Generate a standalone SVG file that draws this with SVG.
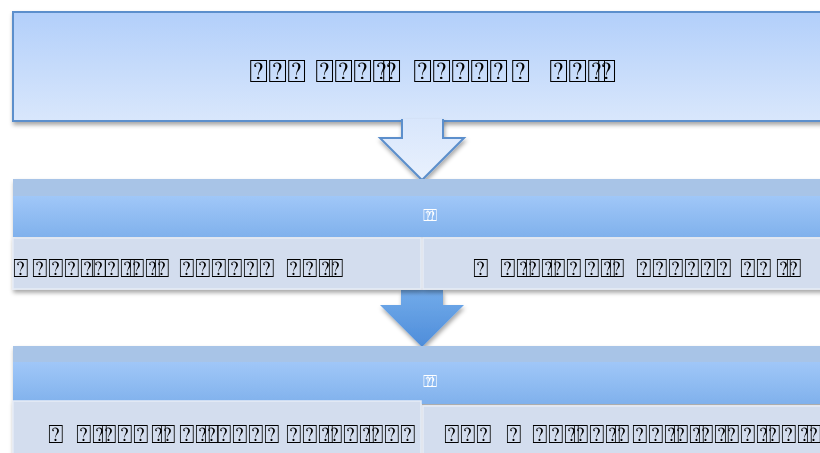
<svg xmlns="http://www.w3.org/2000/svg" width="820" height="453" viewBox="0 0 820 453">
<defs>
<linearGradient id="gTop" x1="0" y1="0" x2="0" y2="1"><stop offset="0" stop-color="#b2cffa"/><stop offset="1" stop-color="#d9e7fc"/></linearGradient>
<linearGradient id="gArrow1" x1="0" y1="0" x2="0" y2="1"><stop offset="0" stop-color="#d8e6fc"/><stop offset="1" stop-color="#e9f1fd"/></linearGradient>
<linearGradient id="gArrow2" x1="0" y1="0" x2="0" y2="1"><stop offset="0" stop-color="#72abea"/><stop offset="1" stop-color="#4e8dda"/></linearGradient>
<linearGradient id="gHead" x1="0" y1="0" x2="0" y2="1"><stop offset="0" stop-color="#a0c7f8"/><stop offset="1" stop-color="#80b1ec"/></linearGradient>
<filter id="sh" x="-5%" y="-10%" width="115%" height="130%"><feDropShadow dx="1" dy="3" stdDeviation="2" flood-color="#000" flood-opacity="0.35"/></filter>
</defs>
<style>
.t{font-family:"DejaVu Sans",sans-serif;fill:#000}
.ti{font-size:32px}
.c{font-size:26px}
.h{font-family:"DejaVu Sans",sans-serif;fill:#fff;font-size:17px}
.cell{fill:#d3ddee;stroke:#e6ecf6;stroke-width:1.5}
.band{fill:#a8c4e7}
</style>
<g id="top-box" filter="url(#sh)">
<rect x="13" y="12" width="820" height="109" fill="url(#gTop)" stroke="#5b8fcc" stroke-width="2"/>
<text class="t ti" y="82"><tspan x="249">⍰⍰⍰</tspan><tspan x="315">⍰⍰⍰⍰</tspan><tspan dx="-9">⍰</tspan><tspan x="413">⍰⍰⍰⍰⍰</tspan><tspan x="511">⍰</tspan><tspan x="549">⍰⍰</tspan><tspan x="587">⍰</tspan><tspan dx="-9">⍰</tspan></text>
</g>
<g id="connectors">
<path id="arrow1" d="M402 119 V138 H380 L422 180 L464 138 H443 V119" fill="url(#gArrow1)" stroke="#5b8fcc" stroke-width="2" filter="url(#sh)"/>
<path id="arrow2" d="M401 290 V305 H380 L422 347 L464 305 H443 V290 Z" fill="url(#gArrow2)" filter="url(#sh)"/>
</g>
<g id="block1" filter="url(#sh)">
<rect class="band" x="13" y="179" width="820" height="17"/>
<rect x="13" y="196" width="820" height="41" fill="url(#gHead)"/>
<text class="h" y="221"><tspan x="423">⍰</tspan><tspan dx="-6">⍰</tspan></text>
<rect class="cell" x="13" y="238" width="408" height="51"/>
<rect class="cell" x="423" y="238" width="410" height="51"/>
<text class="t c" y="277"><tspan x="13">⍰</tspan><tspan x="32">⍰⍰⍰⍰</tspan><tspan dx="-5">⍰</tspan><tspan x="104">⍰⍰</tspan><tspan dx="-7">⍰</tspan><tspan>⍰</tspan><tspan dx="-7">⍰</tspan><tspan x="179">⍰⍰⍰⍰⍰⍰</tspan><tspan x="286">⍰⍰</tspan><tspan x="318">⍰</tspan><tspan dx="-6">⍰</tspan></text>
<text class="t c" y="277"><tspan x="473">⍰</tspan><tspan x="500">⍰⍰</tspan><tspan dx="-7">⍰</tspan><tspan>⍰</tspan><tspan dx="-7">⍰</tspan><tspan>⍰</tspan><tspan x="584">⍰⍰</tspan><tspan dx="-7">⍰</tspan><tspan x="636">⍰⍰⍰⍰⍰⍰</tspan><tspan x="740">⍰⍰</tspan><tspan x="776">⍰</tspan><tspan dx="-6">⍰</tspan></text>
</g>
<g id="block2" filter="url(#sh)">
<rect class="band" x="13" y="346" width="820" height="16"/>
<rect x="13" y="362" width="820" height="42" fill="url(#gHead)"/>
<text class="h" y="387"><tspan x="423">⍰</tspan><tspan dx="-6">⍰</tspan></text>
<rect class="cell" x="13" y="401" width="408" height="60"/>
<rect class="cell" x="423" y="406" width="410" height="55"/>
<text class="t c" y="443"><tspan x="48">⍰</tspan><tspan x="76">⍰⍰</tspan><tspan dx="-7">⍰</tspan><tspan>⍰⍰</tspan><tspan x="151">⍰</tspan><tspan dx="-7">⍰</tspan><tspan x="179">⍰⍰</tspan><tspan dx="-7">⍰</tspan><tspan x="216">⍰⍰⍰⍰</tspan><tspan x="286">⍰⍰⍰</tspan><tspan dx="-7">⍰</tspan><tspan>⍰⍰</tspan><tspan dx="-7">⍰</tspan><tspan>⍰⍰</tspan></text>
<text class="t c" y="443"><tspan x="444">⍰⍰⍰</tspan><tspan x="506">⍰</tspan><tspan x="532">⍰⍰⍰</tspan><tspan dx="-7">⍰</tspan><tspan>⍰⍰</tspan><tspan dx="-7">⍰</tspan><tspan x="632">⍰⍰⍰</tspan><tspan dx="-7">⍰</tspan><tspan>⍰</tspan><tspan dx="-7">⍰</tspan><tspan>⍰</tspan><tspan x="724">⍰⍰⍰</tspan><tspan dx="-7">⍰</tspan><tspan>⍰⍰</tspan><tspan dx="-7">⍰</tspan></text>
</g>
</svg>
